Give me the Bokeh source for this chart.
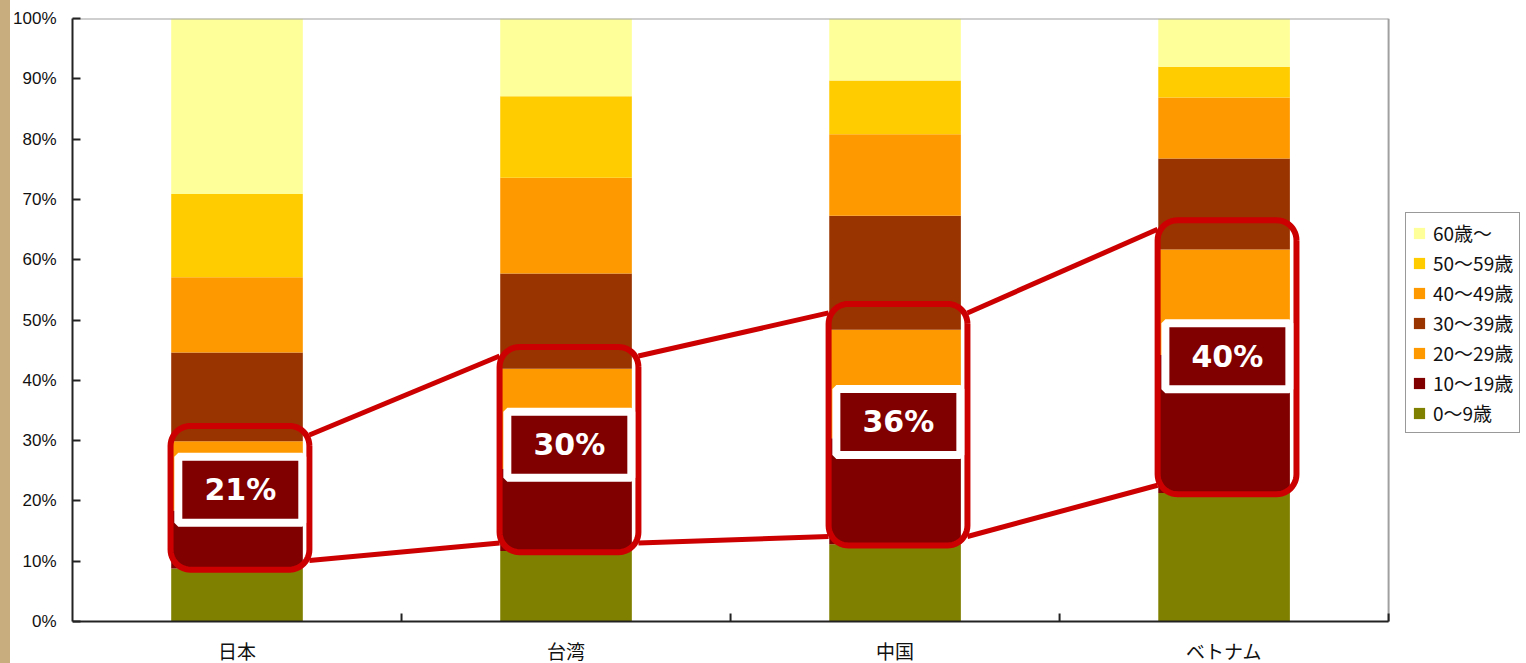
import numpy as np
from bokeh.plotting import figure
from bokeh.models import FixedTicker, Range1d, Legend, LegendItem, ColumnDataSource, Div
from bokeh.layouts import row
from bokeh.embed import file_html
from bokeh.resources import INLINE
from bokeh.core.properties import value

# Age composition (%) by country
countries = ["日本", "台湾", "中国", "ベトナム"]
age_groups = ["0～9歳", "10～19歳", "20～29歳", "30～39歳", "40～49歳", "50～59歳", "60歳～"]
age_0_9 = [8.8, 11.7, 12.8, 21.3]
age_10_19 = [9.6, 13.6, 17.6, 22.9]
age_20_29 = [11.5, 16.6, 18.0, 17.5]
age_30_39 = [14.7, 15.8, 18.9, 15.1]
age_40_49 = [12.5, 15.9, 13.5, 10.1]
age_50_59 = [13.8, 13.5, 8.9, 5.1]
age_60_up = [29.1, 12.9, 10.3, 8.0]
y_ticks = [0, 10, 20, 30, 40, 50, 60, 70, 80, 90, 100]

colors = ["#808000", "#800000", "#FF9900", "#993300", "#FF9900", "#FFCC00", "#FFFF99"]
series = [age_0_9, age_10_19, age_20_29, age_30_39, age_40_49, age_50_59, age_60_up]
keys = ["a0", "a10", "a20", "a30", "a40", "a50", "a60"]

STRIPE = 10
W, H = 1526 - STRIPE, 663
LEFT, TOP = 61, 18                  # frame offsets inside the figure
PLOT_W, PLOT_H = 1317, 603          # size of the bordered plotting area
N = len(countries)
PX_X = PLOT_W / N                   # pixels per category
PX_Y = PLOT_H / 100.0               # pixels per percent

# the frame runs to the right and bottom edges so the legend and the
# category labels can live inside it
x_end = (W - LEFT) / PX_X
y_start = 100 - (H - TOP) / PX_Y

xs = [i + 0.5 for i in range(N)]
data = {"x": xs}
for k, s in zip(keys, series):
    data[k] = s
src = ColumnDataSource(data)

p = figure(width=W, height=H, output_backend="svg", toolbar_location=None,
           x_range=Range1d(0, x_end), y_range=Range1d(y_start, 100),
           x_axis_location=None,
           min_border_left=LEFT, min_border_right=0, min_border_top=TOP,
           min_border_bottom=0)
p.background_fill_color = "white"
p.border_fill_color = "white"
p.outline_line_color = None
p.grid.visible = False

BAR_W = 0.4
bars = p.vbar_stack(keys, x="x", width=BAR_W, source=src,
                    fill_color=colors, line_color=None)

# plot-area border (top and right)
p.segment(x0=[0, N], y0=[100, 0], x1=[N, N], y1=[100, 100],
          line_color="#A0A0A0", line_width=2)

# category axis
AX = "#222222"
p.segment(x0=[0], y0=[0], x1=[N], y1=[0], line_color=AX, line_width=2)
tick_x = list(range(1, N + 1))
p.segment(x0=tick_x, y0=[0] * len(tick_x), x1=tick_x,
          y1=[8 / PX_Y] * len(tick_x), line_color=AX, line_width=2)
p.text(x=xs, y=[-29 / PX_Y] * N, text=countries,
       text_font=value("Noto Sans CJK JP"), text_font_size="19px",
       text_color="#111111", text_align="center", text_baseline="middle")

# value axis
p.yaxis.bounds = (0, 100)
p.yaxis.ticker = FixedTicker(ticks=y_ticks)
p.yaxis.major_label_overrides = {t: f"{t}%" for t in y_ticks}
p.yaxis.major_tick_in = 8
p.yaxis.major_tick_out = 0
p.yaxis.minor_tick_line_color = None
p.yaxis.major_tick_line_width = 2
p.yaxis.major_tick_line_color = AX
p.yaxis.axis_line_color = AX
p.yaxis.axis_line_width = 2
p.yaxis.major_label_text_font = "Liberation Sans"
p.yaxis.major_label_text_font_size = "17px"
p.yaxis.major_label_text_color = "#111111"
p.yaxis.major_label_standoff = 16

# highlighted 10～29歳 share for each country
lo = age_0_9
hi = [a + b + c for a, b, c in zip(age_0_9, age_10_19, age_20_29)]
share = [b + c for b, c in zip(age_10_19, age_20_29)]

box_l = [x - BAR_W / 2 - 0.002 for x in xs]
box_r = [x + BAR_W / 2 + 0.02 for x in xs]
box_t = [h + 0.12 * s for h, s in zip(hi, share)]
box_b = [l - 0.2 for l in lo]


def rounded_box(x0, x1, y0, y1, r=20, n=12):
    rx, ry = r / PX_X, r / PX_Y
    px, py = [], []
    corners = [(x1 - rx, y1 - ry, 0), (x0 + rx, y1 - ry, 90),
               (x0 + rx, y0 + ry, 180), (x1 - rx, y0 + ry, 270)]
    for cx, cy, a0 in corners:
        for k in range(n + 1):
            a = np.radians(a0 + 90.0 * k / n)
            px.append(cx + rx * np.cos(a))
            py.append(cy + ry * np.sin(a))
    px.append(px[0])
    py.append(py[0])
    return px, py


RED = "#CC0000"
# connecting lines between the highlighted blocks
off = 1.5
top_x = [[box_r[i], box_l[i + 1]] for i in range(N - 1)]
top_y = [[box_t[i] - off, box_t[i + 1] - off] for i in range(N - 1)]
bot_y = [[box_b[i] + off, box_b[i + 1] + off] for i in range(N - 1)]
p.multi_line(top_x + top_x, top_y + bot_y, line_color=RED, line_width=5)

outlines = [rounded_box(box_l[i], box_r[i], box_b[i], box_t[i]) for i in range(N)]
p.multi_line([o[0] for o in outlines], [o[1] for o in outlines],
             line_color=RED, line_width=6, line_join="round")

# value tags
tag_x = [x + 0.01 for x in xs]
tag_y = [(l + h) / 2 + 2.5 for l, h in zip(lo, hi)]
tag_txt = [f"{round(s)}%" for s in share]
p.rect(x=tag_x, y=tag_y, width=124, height=66, width_units="screen",
       height_units="screen", fill_color="#800000", line_color="white",
       line_width=8, level="overlay")
p.text(x=tag_x, y=tag_y, text=tag_txt, text_font=value("DejaVu Sans"),
       text_font_style="bold", text_font_size="30px", text_color="white",
       text_align="center", text_baseline="middle", level="overlay")

# legend (oldest group first)
items = [LegendItem(label=age_groups[i], renderers=[bars[i]])
         for i in reversed(range(len(age_groups)))]
legend = Legend(items=items, location=(1333, 230), orientation="vertical",
                label_text_font="Noto Sans CJK JP", label_text_font_size="19px",
                label_text_color="#111111", glyph_width=14, glyph_height=14,
                label_standoff=7, padding=6, spacing=3, label_height=20,
                margin=0, border_line_color="#333333", border_line_width=1,
                background_fill_color="white", background_fill_alpha=1.0)
p.add_layout(legend, "center")

stripe = Div(width=STRIPE, height=H, margin=0,
             styles={"background-color": "#C8AD7F"})
layout = row(stripe, p, spacing=0)

open("out.html", "w").write(file_html(layout, INLINE))
